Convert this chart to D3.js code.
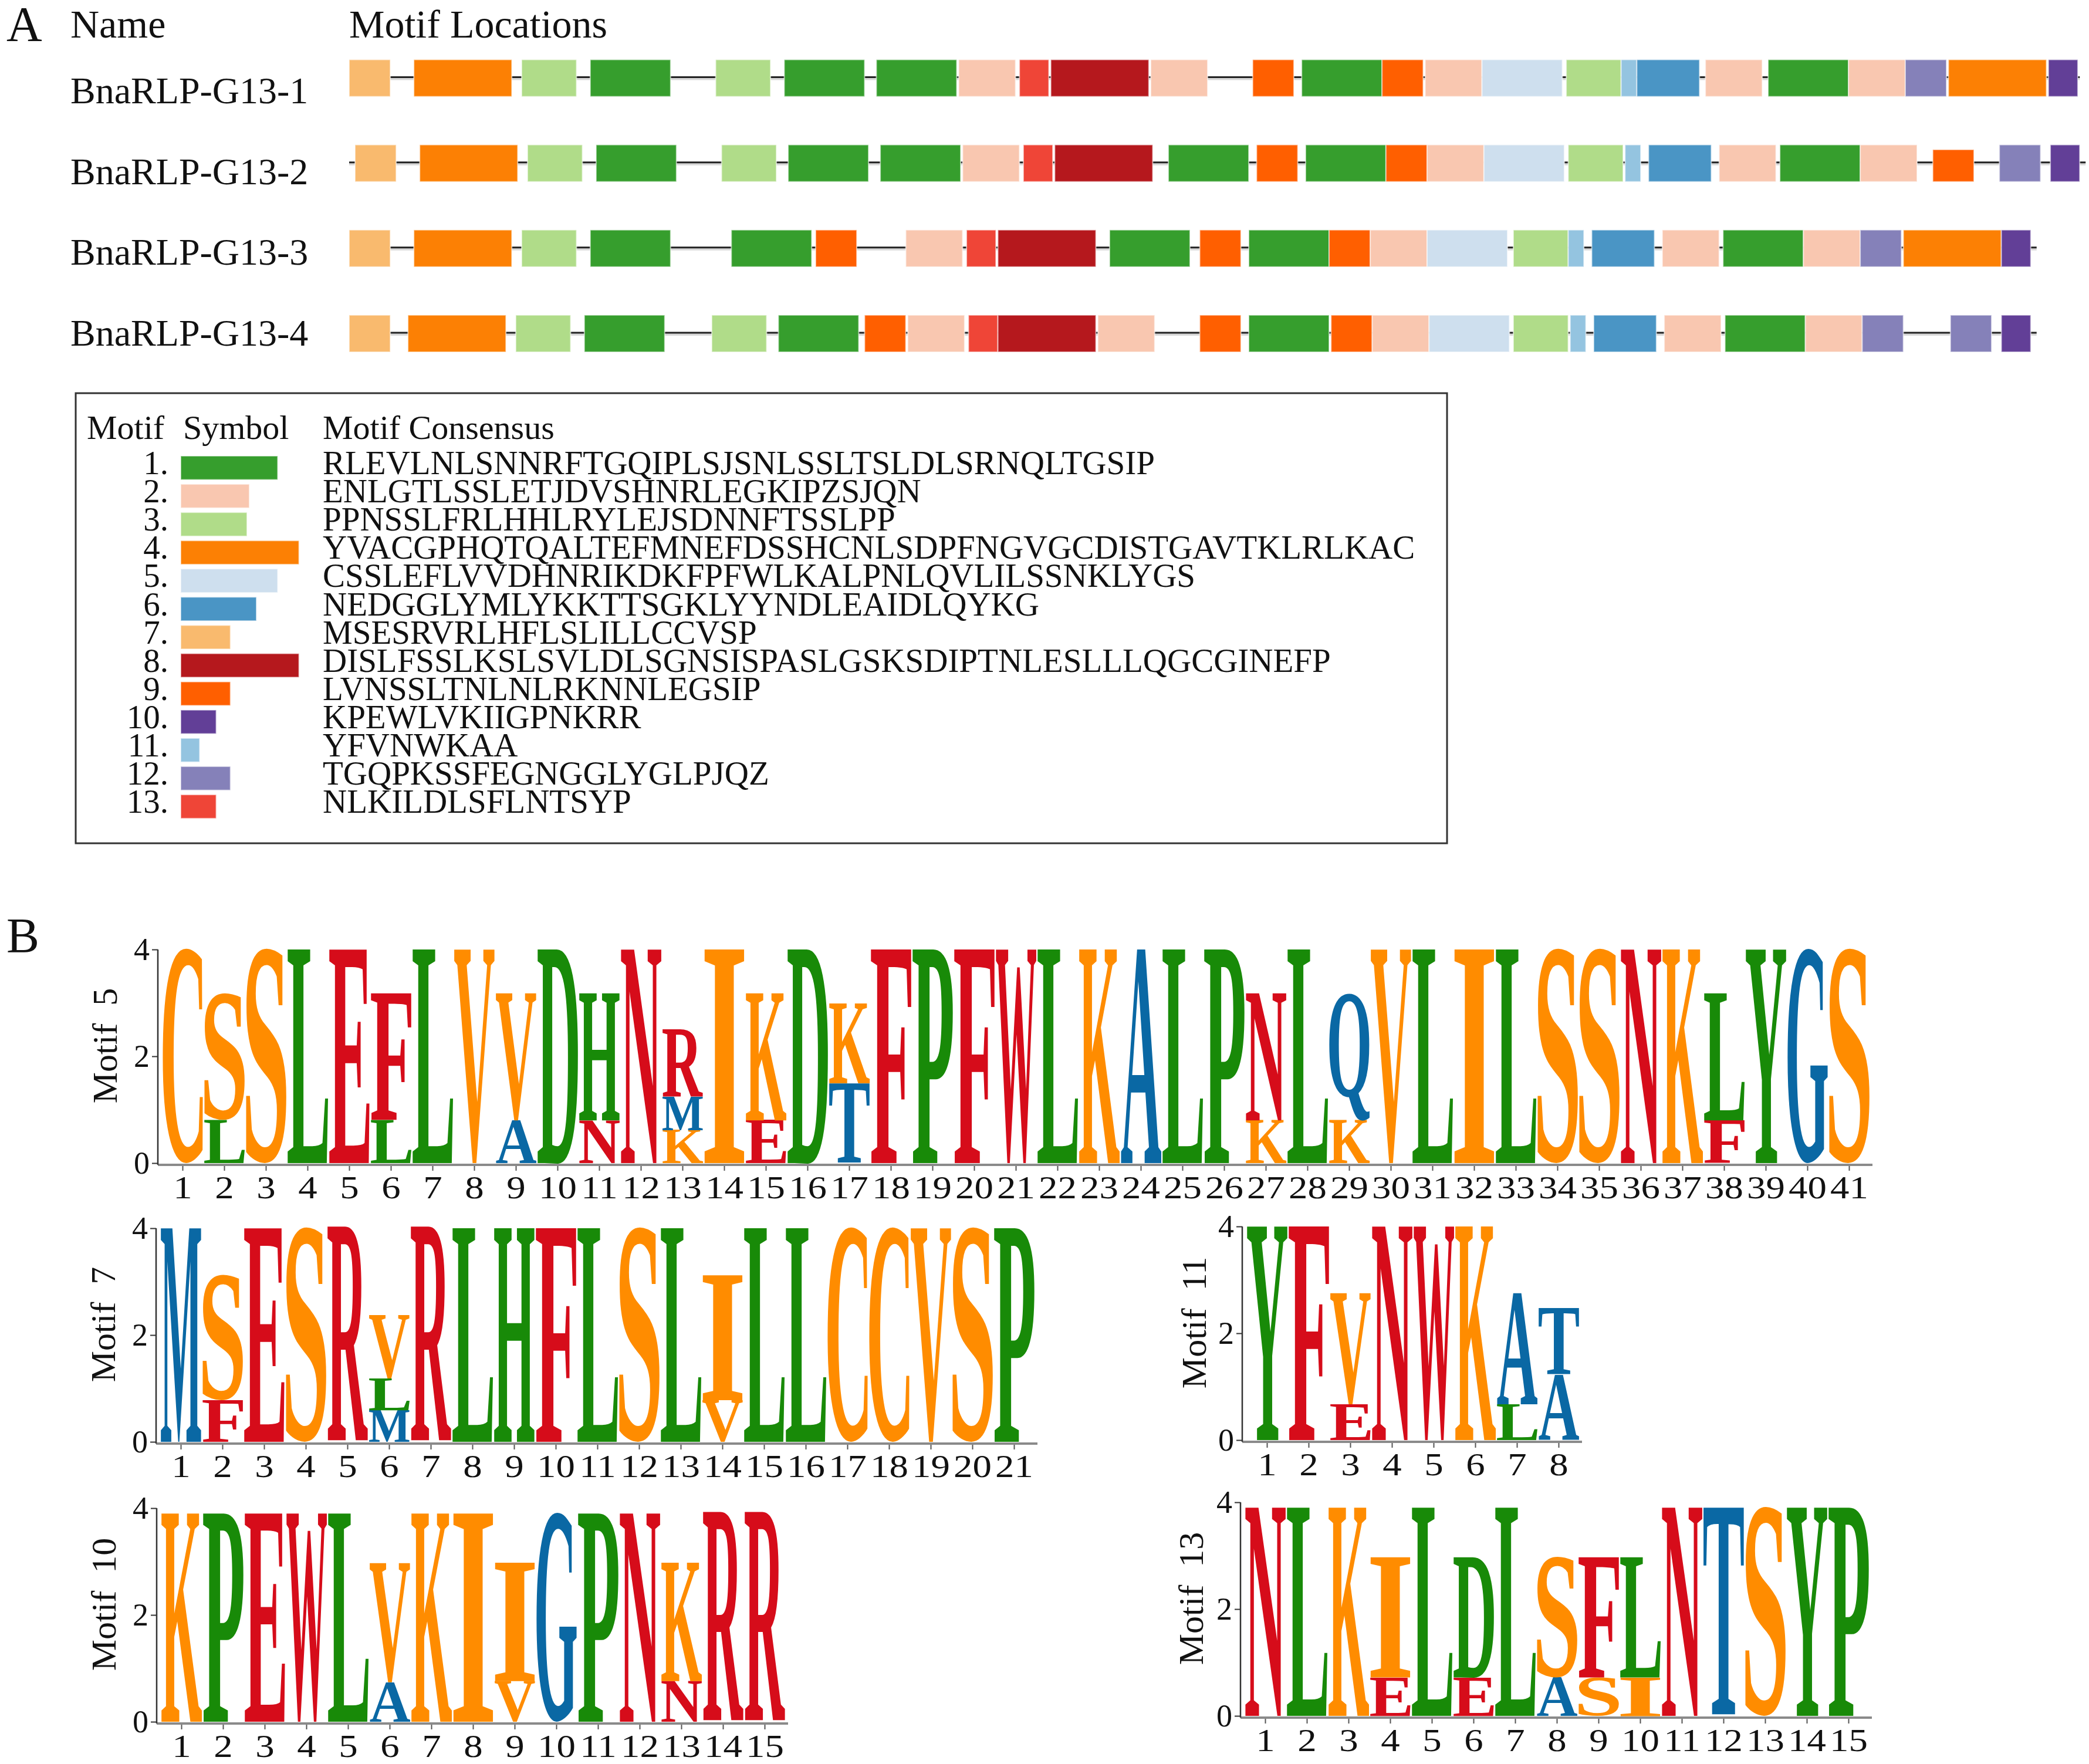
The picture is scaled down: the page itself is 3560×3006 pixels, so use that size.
<!DOCTYPE html>
<html>
<head>
<meta charset="utf-8">
<script src="https://cdn.jsdelivr.net/npm/d3@7"></script>
<style>
  html, body { margin: 0; padding: 0; background: #fff; }
  svg text { font-family: "Liberation Serif", "Times New Roman", serif; fill: #111; }
</style>
</head>
<body>
<div id="chart"></div>
<script>
// ---- data ----
var seqNames = ["BnaRLP-G13-1", "BnaRLP-G13-2", "BnaRLP-G13-3", "BnaRLP-G13-4"];
var seqLengths = [883, 886, 861, 861];

// motif id and start residue of every site, left to right
var siteMotifs = [
  [7,4,3,1,3,1,1,2,13,8,2,9,1,9,2,5,3,11,6,2,1,2,12,4,10],
  [7,4,3,1,3,1,1,2,13,8,1,9,1,9,2,5,3,11,6,2,1,2,9,12,10],
  [7,4,3,1,1,9,2,13,8,1,9,1,9,2,5,3,11,6,2,1,2,12,4,10],
  [7,4,3,1,3,1,9,2,13,8,2,9,1,9,2,5,3,11,6,2,1,2,12,12,10]
];
var siteStarts = [
  [0,33,88,123,187,222,269,311,342,358,409,461,486,527,549,578,621,649,657,692,724,765,794,816,867],
  [3,36,91,126,190,224,271,313,344,360,418,463,488,529,550,579,622,651,663,699,730,771,808,842,868],
  [0,33,88,123,195,238,284,315,331,388,434,459,500,521,550,594,622,634,670,701,742,771,793,843],
  [0,30,85,120,185,219,263,285,316,331,382,434,459,501,522,551,594,623,635,671,702,743,772,817,843]
];
// weaker site (shorter box)
var weakSites = [{ seq: 1, site: 22, strength: 0.87 }];

var motifConsensus = [
  "RLEVLNLSNNRFTGQIPLSJSNLSSLTSLDLSRNQLTGSIP",
  "ENLGTLSSLETJDVSHNRLEGKIPZSJQN",
  "PPNSSLFRLHHLRYLEJSDNNFTSSLPP",
  "YVACGPHQTQALTEFMNEFDSSHCNLSDPFNGVGCDISTGAVTKLRLKAC",
  "CSSLEFLVVDHNRIKDKFPFWLKALPNLQVLILSSNKLYGS",
  "NEDGGLYMLYKKTTSGKLYYNDLEAIDLQYKG",
  "MSESRVRLHFLSLILLCCVSP",
  "DISLFSSLKSLSVLDLSGNSISPASLGSKSDIPTNLESLLLQGCGINEFP",
  "LVNSSLTNLNLRKNNLEGSIP",
  "KPEWLVKIIGPNKRR",
  "YFVNWKAA",
  "TGQPKSSFEGNGGLYGLPJQZ",
  "NLKILDLSFLNTSYP"
];
var motifColors = ["#369e2d","#f9c7b0","#b0dc89","#fc8004","#cedfee","#4a95c5","#f9ba6e",
                   "#b5181d","#ff5f00","#623f97","#94c4e0","#8581b9","#ef4537"];

// logo columns: [letter, bits] from bottom to top
var logo5 = [
  [["C",4]], [["L",0.81],["S",2.36]], [["S",4]], [["L",4]], [["E",4]],
  [["L",0.81],["F",2.37]], [["L",4]], [["V",4]], [["A",0.8],["V",2.38]], [["D",4]],
  [["N",0.8],["H",2.38]], [["N",4]], [["K",0.62],["M",0.62],["R",1.25]], [["I",4]], [["E",0.8],["K",2.38]],
  [["D",4]], [["T",1.49],["K",1.49]], [["F",4]], [["P",4]], [["F",4]],
  [["W",4]], [["L",4]], [["K",4]], [["A",4]], [["L",4]],
  [["P",4]], [["K",0.8],["N",2.38]], [["L",4]], [["K",0.8],["Q",2.38]], [["V",4]],
  [["L",4]], [["I",4]], [["L",4]], [["S",4]], [["S",4]],
  [["N",4]], [["K",4]], [["F",0.8],["L",2.38]], [["Y",4]], [["G",4]], [["S",4]]
];
var logo7 = [
  [["M",4]], [["F",0.78],["S",2.34]], [["E",4]], [["S",4]], [["R",4]],
  [["M",0.59],["L",0.59],["V",1.19]], [["R",4]], [["L",4]], [["H",4]], [["F",4]],
  [["L",4]], [["S",4]], [["L",4]], [["V",0.78],["I",2.34]], [["L",4]],
  [["L",4]], [["C",4]], [["C",4]], [["V",4]], [["S",4]], [["P",4]]
];
var logo11 = [
  [["Y",4]], [["F",4]], [["E",0.67],["V",2.08]], [["N",4]], [["W",4]], [["K",4]],
  [["L",0.67],["A",2.08]], [["A",1.22],["T",1.25]]
];
var logo10 = [
  [["K",3.9]], [["P",3.9]], [["E",3.9]], [["W",3.9]], [["L",3.9]],
  [["A",0.74],["V",2.23]], [["K",3.9]], [["I",3.9]], [["V",0.76],["I",2.22]], [["G",3.9]],
  [["P",3.9]], [["N",3.9]], [["N",0.76],["K",2.22]], [["R",3.9]], [["R",3.9]]
];
var logo13 = [
  [["N",3.9]], [["L",3.9]], [["K",3.9]], [["E",0.72],["I",2.25]], [["L",3.9]],
  [["E",0.72],["D",2.25]], [["L",3.9]], [["A",0.72],["S",2.25]], [["S",0.72],["F",2.25]], [["I",0.72],["L",2.25]],
  [["N",3.9]], [["T",3.9]], [["S",3.9]], [["Y",3.9]], [["P",3.9]]
];
var bitTicks = [0, 2, 4];

var orange = "#ff8c00", green = "#188a08", red = "#d60c1a", blue = "#0a68a4";
var letterColors = {A:blue, C:orange, D:green, E:red, F:red, G:blue, H:green, I:orange, K:orange,
  L:green, M:blue, N:red, P:green, Q:blue, R:red, S:orange, T:blue, V:orange, W:red, Y:green};

// ---- svg ----
var svg = d3.select("#chart").append("svg")
    .attr("width", 3560)
    .attr("height", 3006);

svg.append("text").attr("x", 11).attr("y", 70).attr("font-size", 84).text("A");
svg.append("text").attr("x", 120).attr("y", 64).attr("font-size", 68).text("Name");
svg.append("text").attr("x", 595).attr("y", 64).attr("font-size", 68).text("Motif Locations");

// residue -> pixel
var x = d3.scaleLinear().domain([0, 886]).range([595, 595 + 886 * 3.34]);

seqNames.forEach(function(name, i) {
  var top = 101.6 + i * 145.1, boxH = 63;
  svg.append("text")
    .attr("x", 120).attr("y", 176 + i * 137.7)
    .attr("font-size", 64)
    .text(name);

  // backbone with its soft shadow
  svg.append("line")
    .attr("x1", x(0)).attr("x2", x(seqLengths[i]))
    .attr("y1", top + 33).attr("y2", top + 33)
    .attr("stroke", "#d8d8d8").attr("stroke-width", 4);
  svg.append("line")
    .attr("x1", x(0)).attr("x2", x(seqLengths[i]))
    .attr("y1", top + 30).attr("y2", top + 30)
    .attr("stroke", "#222").attr("stroke-width", 3);

  var sites = siteMotifs[i].map(function(m, k) {
    var w = weakSites.filter(function(s) { return s.seq === i && s.site === k; });
    return { m: m, start: siteStarts[i][k], strength: w.length ? w[0].strength : 1 };
  });

  svg.append("g").selectAll("rect")
    .data(sites)
    .enter()
    .append("rect")
      .attr("x", function(d) { return x(d.start); })
      .attr("y", function(d) { return top + boxH * (1 - d.strength); })
      .attr("width", function(d) { return x(d.start + motifConsensus[d.m - 1].length) - x(d.start); })
      .attr("height", function(d) { return boxH * d.strength; })
      .attr("fill", function(d) { return motifColors[d.m - 1]; })
      .attr("stroke", "#fff").attr("stroke-opacity", 0.55).attr("stroke-width", 2);
});

// ---- legend box ----
svg.append("rect")
  .attr("x", 129).attr("y", 670).attr("width", 2337).attr("height", 767)
  .attr("fill", "none").attr("stroke", "#333").attr("stroke-width", 3);
svg.append("text").attr("x", 148).attr("y", 748).attr("font-size", 58).text("Motif");
svg.append("text").attr("x", 312).attr("y", 748).attr("font-size", 58).text("Symbol");
svg.append("text").attr("x", 550).attr("y", 748).attr("font-size", 58).text("Motif Consensus");

var barScale = d3.scaleLinear().domain([0, 50]).range([0, 201.5]);
var legendRows = svg.append("g").selectAll("g")
  .data(motifConsensus)
  .enter()
  .append("g")
    .attr("transform", function(d, i) { return "translate(0," + (808 + i * 48.1) + ")"; });
legendRows.append("text")
  .attr("x", 287).attr("text-anchor", "end").attr("font-size", 57)
  .text(function(d, i) { return (i + 1) + "."; });
legendRows.append("rect")
  .attr("x", 308).attr("y", -31)
  .attr("width", function(d) { return barScale(d.length); })
  .attr("height", 40.5)
  .attr("fill", function(d, i) { return motifColors[i]; })
  .attr("stroke", "#fff").attr("stroke-opacity", 0.5).attr("stroke-width", 2);
legendRows.append("text")
  .attr("x", 550).attr("font-size", 57)
  .text(function(d) { return d; });

// ---- B: sequence logos ----
svg.append("text").attr("x", 11).attr("y", 1623).attr("font-size", 84).text("B");

var ctx = document.createElement("canvas").getContext("2d");
ctx.font = "bold 200px 'Liberation Serif'";
var inkCache = {};
function ink(ch) {
  if (!inkCache[ch]) {
    var m = ctx.measureText(ch);
    inkCache[ch] = { l: m.actualBoundingBoxLeft, r: m.actualBoundingBoxRight,
                     a: m.actualBoundingBoxAscent, d: m.actualBoundingBoxDescent };
  }
  return inkCache[ch];
}

function drawLogo(data, motifNum, axisX, zeroY, labelGap) {
  var colW = 71;
  var y = d3.scaleLinear().domain([0, 4]).range([zeroY, zeroY - 364]);
  var xb = d3.scaleBand()
    .domain(d3.range(1, data.length + 1))
    .range([axisX + 7, axisX + 7 + colW * data.length]);
  var g = svg.append("g");

  var letters = [];
  data.forEach(function(col, j) {
    var acc = 0;
    col.forEach(function(c) {
      letters.push({ ch: c[0], pos: j + 1, b0: acc, b1: acc + c[1] });
      acc += c[1];
    });
  });

  g.selectAll("text.glyph")
    .data(letters)
    .enter()
    .append("text")
      .attr("class", "glyph")
      .attr("font-size", 200)
      .attr("font-weight", "bold")
      .style("font-family", "'Liberation Serif', serif")
      .style("fill", function(d) { return letterColors[d.ch]; })
      .attr("x", function(d) { return ink(d.ch).l; })
      .attr("y", function(d) { return -ink(d.ch).d; })
      .attr("transform", function(d) {
        var k = ink(d.ch);
        var w = xb.bandwidth() - 2, h = y(d.b0) - y(d.b1);
        return "translate(" + (xb(d.pos) + 1) + "," + y(d.b0) + ") scale(" +
          (w / (k.l + k.r)) + "," + (h / (k.a + k.d)) + ")";
      })
      .text(function(d) { return d.ch; });

  // x axis
  var xAxis = g.append("g")
    .attr("transform", "translate(0," + (zeroY + 3) + ")")
    .call(d3.axisBottom(xb).tickSize(10).tickSizeOuter(0).tickPadding(9));
  xAxis.select(".domain").remove();
  xAxis.selectAll(".tick line").attr("stroke", "#555").attr("stroke-width", 2);
  xAxis.selectAll(".tick text")
    .attr("font-size", 54)
    .style("font-family", "'Liberation Serif', serif")
    .style("fill", "#111")
    .attr("transform", "scale(1.2,1)");
  g.append("line")
    .attr("x1", axisX).attr("x2", xb.range()[1] + 4)
    .attr("y1", zeroY + 3).attr("y2", zeroY + 3)
    .attr("stroke", "#8a8a8a").attr("stroke-width", 4);

  // y axis
  var yAxis = g.append("g")
    .attr("transform", "translate(" + axisX + ",0)")
    .call(d3.axisLeft(y).tickValues(bitTicks).tickFormat(d3.format("d"))
      .tickSize(10).tickSizeOuter(0).tickPadding(4));
  yAxis.select(".domain").remove();
  yAxis.selectAll(".tick line").attr("stroke", "#333").attr("stroke-width", 2);
  yAxis.selectAll(".tick text")
    .attr("font-size", 54)
    .style("font-family", "'Liberation Serif', serif")
    .style("fill", "#111");
  g.append("line")
    .attr("x1", axisX).attr("x2", axisX)
    .attr("y1", zeroY + 3).attr("y2", y(4))
    .attr("stroke", "#333").attr("stroke-width", 2.5);

  g.append("text")
    .attr("transform", "translate(" + (axisX - labelGap) + "," + (zeroY - 200) + ") rotate(-90)")
    .attr("text-anchor", "middle")
    .attr("font-size", 60)
    .style("white-space", "pre")
    .text("Motif  " + motifNum);
}

drawLogo(logo5, 5, 269, 1982, 70);
drawLogo(logo7, 7, 266, 2457, 70);
drawLogo(logo11, 11, 2117, 2454, 62);
drawLogo(logo10, 10, 267, 2934, 70);
drawLogo(logo13, 13, 2114, 2924, 64);
</script>
</body>
</html>
